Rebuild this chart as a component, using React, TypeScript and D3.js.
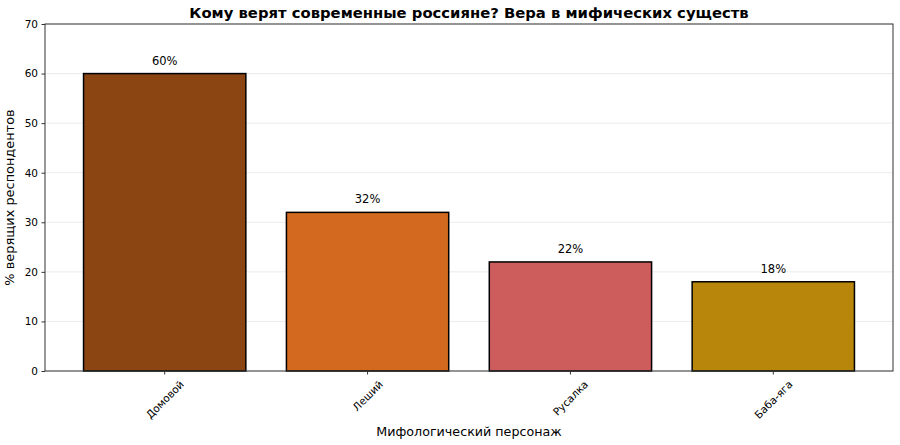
import React, { useEffect, useRef } from 'react';
import * as d3 from 'd3';

const creatures = ['Домовой', 'Леший', 'Русалка', 'Баба-яга'];
const believers = [60, 32, 22, 18];
const barColors = ['#8B4513', '#D2691E', '#CD5C5C', '#B8860B'];
const yTicks = [0, 10, 20, 30, 40, 50, 60, 70];

const App = () => {
  const svgRef = useRef<SVGSVGElement>(null);

  useEffect(() => {
    const width = 900;
    const height = 445;
    const margin = { top: 24, right: 7, bottom: 74, left: 45 };
    const innerW = width - margin.left - margin.right;
    const innerH = height - margin.top - margin.bottom;
    const font = 'DejaVu Sans, sans-serif';

    const root = d3.select(svgRef.current);
    root.selectAll('*').remove();
    root.attr('width', width).attr('height', height).style('display', 'block');

    const svg = root.append('g')
      .attr('transform', `translate(${margin.left},${margin.top})`);

    const x = d3.scaleBand<string>()
      .domain(creatures)
      .range([0, innerW])
      .paddingInner(0.2)
      .paddingOuter(0.19);

    const y = d3.scaleLinear()
      .domain([0, 70])
      .range([innerH, 0]);

    // grid
    svg.append('g')
      .selectAll('line')
      .data(yTicks)
      .enter().append('line')
      .attr('x1', 0)
      .attr('x2', innerW)
      .attr('y1', d => y(d))
      .attr('y2', d => y(d))
      .attr('stroke', '#b0b0b0')
      .attr('stroke-opacity', 0.3)
      .attr('stroke-width', 0.8);

    // bars
    svg.selectAll('.bar')
      .data(creatures)
      .enter().append('rect')
      .attr('class', 'bar')
      .attr('x', d => x(d)!)
      .attr('y', (d, i) => y(believers[i]))
      .attr('width', x.bandwidth())
      .attr('height', (d, i) => innerH - y(believers[i]))
      .attr('fill', (d, i) => barColors[i])
      .attr('stroke', 'black')
      .attr('stroke-width', 1.5);

    // value labels
    svg.selectAll('.val')
      .data(creatures)
      .enter().append('text')
      .attr('class', 'val')
      .attr('x', d => x(d)! + x.bandwidth() / 2)
      .attr('y', (d, i) => y(believers[i]) - 9)
      .attr('text-anchor', 'middle')
      .attr('font-family', font)
      .attr('font-size', 11.5)
      .attr('fill', '#000')
      .text((d, i) => `${believers[i]}%`);

    // frame
    svg.append('rect')
      .attr('width', innerW)
      .attr('height', innerH)
      .attr('fill', 'none')
      .attr('stroke', '#333')
      .attr('stroke-width', 1);

    // y axis
    const yAxis = svg.append('g')
      .call(d3.axisLeft(y).tickValues(yTicks).tickSize(3.5).tickPadding(3.5));
    yAxis.select('.domain').remove();
    yAxis.selectAll('line').attr('stroke', '#333');
    yAxis.selectAll('text')
      .attr('font-family', font)
      .attr('font-size', 10.5)
      .attr('fill', '#000');

    // x axis with rotated labels
    const xAxis = svg.append('g')
      .attr('transform', `translate(0,${innerH})`)
      .call(d3.axisBottom(x).tickSize(3.5).tickPadding(0).tickSizeOuter(0));
    xAxis.select('.domain').remove();
    xAxis.selectAll('line').attr('stroke', '#333');
    xAxis.selectAll<SVGTextElement, string>('text')
      .attr('font-family', font)
      .attr('font-size', 10.5)
      .attr('fill', '#000')
      .attr('dy', null)
      .attr('text-anchor', 'middle')
      .attr('dominant-baseline', 'central')
      .each(function () {
        const w = this.getComputedTextLength();
        const h = 12;
        const half = (w + h) * Math.SQRT1_2 / 2;
        d3.select(this)
          .attr('y', 0)
          .attr('transform', `translate(0,${7 + half}) rotate(-45)`);
      });

    // axis labels
    svg.append('text')
      .attr('x', innerW / 2)
      .attr('y', innerH + 65)
      .attr('text-anchor', 'middle')
      .attr('font-family', font)
      .attr('font-size', 12.7)
      .attr('fill', '#000')
      .text('Мифологический персонаж');

    svg.append('text')
      .attr('transform', `translate(${-31},${innerH / 2}) rotate(-90)`)
      .attr('text-anchor', 'middle')
      .attr('font-family', font)
      .attr('font-size', 12.9)
      .attr('fill', '#000')
      .text('% верящих респондентов');

    // title
    svg.append('text')
      .attr('x', innerW / 2)
      .attr('y', -6)
      .attr('text-anchor', 'middle')
      .attr('font-family', font)
      .attr('font-size', 14.8)
      .attr('font-weight', 'bold')
      .attr('fill', '#000')
      .text('Кому верят современные россияне? Вера в мифических существ');
  }, []);

  return <svg ref={svgRef} style={{ position: 'absolute', left: 0, top: 0 }}></svg>;
};

export default App;
